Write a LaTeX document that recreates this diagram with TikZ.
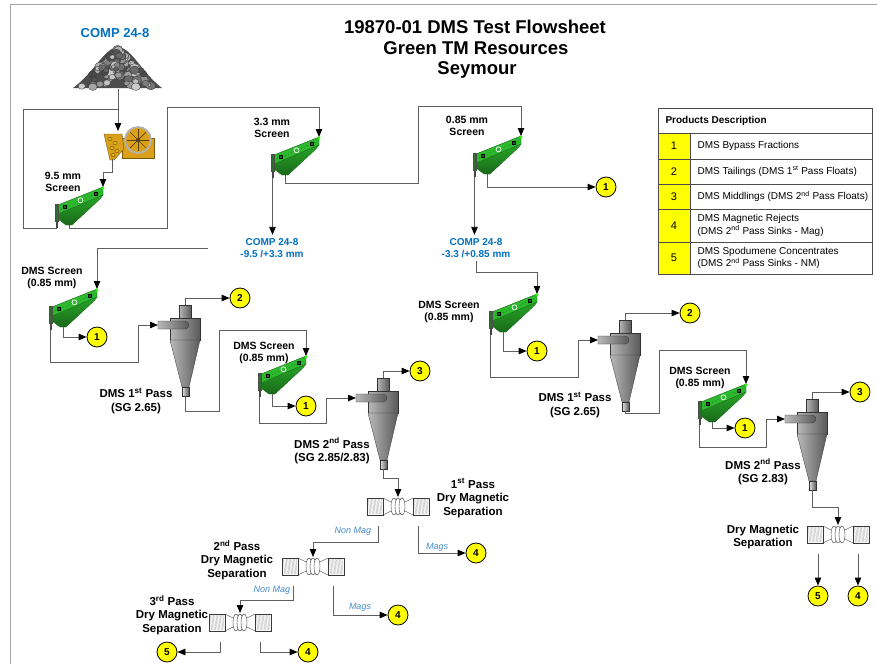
\documentclass[tikz,border=0pt]{standalone}
\usepackage{fontspec}
\setmainfont{Liberation Sans}
\usetikzlibrary{arrows.meta}

\definecolor{compblue}{RGB}{0,112,192}
\definecolor{streamblue}{RGB}{70,140,205}
\definecolor{linegray}{RGB}{95,95,95}
\definecolor{scrgreen}{RGB}{45,185,45}
\definecolor{scrdark}{RGB}{25,105,25}
\definecolor{crushgold}{RGB}{218,160,25}
\definecolor{prodyellow}{RGB}{255,255,0}

\tikzset{
  flow/.style={draw=linegray, line width=0.8pt},
  arr/.style={flow, -{Triangle[length=8pt,width=6.5pt,color=black]}},
  prod/.style={circle, draw=black, fill=prodyellow, line width=0.8pt, minimum size=20pt, inner sep=0pt, font=\bfseries\fontsize{10}{10}\selectfont},
  scrlbl/.style={align=center, font=\bfseries\fontsize{10.5}{12}\selectfont},
  passlbl/.style={align=center, font=\bfseries\fontsize{11.5}{13.5}\selectfont},
  complbl/.style={align=center, text=compblue, font=\bfseries\fontsize{10}{12}\selectfont},
  streamlbl/.style={text=streamblue, font=\itshape\fontsize{9}{10}\selectfont},
  tabtxt/.style={anchor=west, align=left, font=\fontsize{10}{12.5}\selectfont},
  tabnum/.style={font=\fontsize{11}{12}\selectfont},
  cycshade/.style={left color=gray!55, middle color=gray!5, right color=gray!70!black, draw=gray!40!black, line width=0.3pt},
  % criba vibratoria
  screen/.pic={
    \fill[gray!55!black] (-47.5,30) rectangle (-45.5,40);
    \shade[top color=scrgreen!90!black, bottom color=scrdark, draw=scrdark, line width=0.3pt] (-45,26) -- (0,7) -- (-3,11) -- (-31,37) -- (-37,37) -- (-45,31) -- cycle;
    \filldraw[fill=scrgreen, draw=scrdark, line width=0.4pt] (-45,17) -- (0,-1) -- (0,7) -- (-45,26) -- cycle;
    \filldraw[fill=scrdark!80!gray, draw=black!70, line width=0.3pt] (-48,16) rectangle (-45,33);
    \draw[scrdark, line width=0.4pt, dash pattern=on 1pt off 2pt] (-42,21) -- (-3,4);
    \filldraw[fill=scrgreen, draw=white, line width=0.7pt] (-22.5,12.3) circle[radius=2.5];
    \filldraw[fill=scrdark, draw=black, line width=0.3pt] (-40,17.5) rectangle ++(3,3);
    \filldraw[fill=scrdark, draw=black, line width=0.3pt] (-9,4) rectangle ++(3,3);
    \fill[green!80!lime] (0,0) circle[radius=1.6];
    \coordinate (-feed) at (0,-1);
    \coordinate (-over) at (-46.5,40);
    \coordinate (-under) at (-34,37);
  },
  % hidrociclon
  cyclone/.pic={
    \shade[cycshade] (21,-20) rectangle (33,-7);
    \shade[cycshade] (12,-7) rectangle (42,15);
    \shade[cycshade] (12,15) -- (42,15) -- (31,62) -- (24,62) -- cycle;
    \shade[cycshade, left color=gray!20] (24,62) rectangle (31,71);
    \shade[cycshade] (0,-4) -- (27,-4) arc[start angle=-90, end angle=90, radius=4] -- (0,4) -- cycle;
    \coordinate (-in) at (0,0);
    \coordinate (-over) at (27,-20);
    \coordinate (-under) at (27.5,71);
  },
  % separador magnetico
  magsep/.pic={
    \filldraw[fill=gray!5, draw=gray!45!black, line width=0.4pt] (-31,1) rectangle (-15,18);
    \filldraw[fill=gray!5, draw=gray!45!black, line width=0.4pt] (15,1) rectangle (31,18);
    \foreach \k in {0,...,9} {
      \draw[gray!65, line width=0.3pt] (-29.5+\k*1.4,2) -- (-28.5+\k*1.4,17);
      \draw[gray!65, line width=0.3pt] (16.5+\k*1.4,2) -- (17.5+\k*1.4,17);
    }
    \draw[gray!45!black, line width=0.4pt] (-15,1) -- (-7,5) (-15,18) -- (-7,14) (15,1) -- (7,5) (15,18) -- (7,14);
    \foreach \dx in {-4,0,4}
      \filldraw[fill=white, draw=gray!45!black, line width=0.4pt] (\dx,9.5) ellipse (3 and 8.5);
    \coordinate (-top) at (0,0);
    \coordinate (-nonmag) at (-20,29);
    \coordinate (-mags) at (20,29);
  }
}

\begin{document}
\begin{tikzpicture}[x=1pt, y=-1pt]
    \useasboundingbox (0,0) rectangle (877,664);
    \fill[white] (0,0) rectangle (877,664);
    \draw[gray!70, line width=0.8pt] (10,664) -- (10,4) -- (877,4);

    % Titulo
    \node[font=\bfseries\fontsize{18.5}{22}\selectfont] (title1) at (475,27) {19870-01 DMS Test Flowsheet};
    \node[font=\bfseries\fontsize{18.5}{22}\selectfont] (title2) at (476,48) {Green TM Resources};
    \node[font=\bfseries\fontsize{18.5}{22}\selectfont] (title3) at (477,70) {Seymour};

    % Alimentacion: pila de mineral
    \node[text=compblue, font=\bfseries\fontsize{13}{15}\selectfont] (feedlbl) at (115,33) {COMP 24-8};
    \fill[gray!60!black] (73,88) .. controls (95,72) and (104,48) .. (118,47) .. controls (132,48) and (141,72) .. (162,88) -- cycle;
    \pgfmathsetseed{7}
    \foreach \i in {1,...,130} {
      \pgfmathsetmacro\hh{rnd}
      \pgfmathsetmacro\yy{87-38*\hh}
      \pgfmathsetmacro\xx{118+(2*rnd-1)*41*(1-\hh)}
      \pgfmathtruncatemacro\sh{15+60*rnd}
      \pgfmathsetmacro\rr{2+2.3*rnd}
      \filldraw[fill=black!\sh, draw=black!80, line width=0.3pt] (\xx,\yy) ellipse ({1.2*\rr} and \rr);
    }
    \coordinate (pile) at (118,89);

    % Trituradora
    \fill[crushgold, draw=crushgold!55!black, line width=0.4pt] (122,138) rectangle (154,158);
    \fill[crushgold, draw=crushgold!55!black, line width=0.4pt] (104,134) -- (122,134) -- (124,149) -- (114,160) -- (110,160) -- cycle;
    \foreach \p in {(110,139),(115,143),(112,148),(117,151),(113,155)}
      \filldraw[fill=crushgold!80!yellow, draw=crushgold!40!black, line width=0.3pt] \p ellipse (2.2 and 1.6);
    \filldraw[fill=crushgold, draw=gray!60, line width=1.8pt] (138,140) circle[radius=13];
    \foreach \a in {0,45,...,315}
      \draw[crushgold!40!black, line width=0.7pt] (138,140) -- ++(\a:11);
    \fill[crushgold!40!black] (138,140) circle[radius=2];
    \coordinate (crushin) at (118,131);
    \coordinate (crushout) at (112,159);

    % Cribas
    \pic (scrA) at (103,188) {screen};
    \pic (scrB) at (319,138) {screen};
    \pic (scrC) at (521,137) {screen};
    \pic (scrD) at (97,290) {screen};
    \pic (scrE) at (306,357) {screen};
    \pic (scrF) at (537,295) {screen};
    \pic (scrG) at (746,385) {screen};
    \node[scrlbl] (lblA) at (63,182) {9.5 mm\\Screen};
    \node[scrlbl] (lblB) at (272,128) {3.3 mm\\Screen};
    \node[scrlbl] (lblC) at (467,126) {0.85 mm\\Screen};
    \node[scrlbl] (lblD) at (52,278) {DMS Screen\\(0.85 mm)};
    \node[scrlbl] (lblE) at (264,353) {DMS Screen\\(0.85 mm)};
    \node[scrlbl] (lblF) at (449,312) {DMS Screen\\(0.85 mm)};
    \node[scrlbl] (lblG) at (700,378) {DMS Screen\\(0.85 mm)};

    % Productos intermedios
    \node[complbl] (comp1) at (272,248) {COMP 24-8\\-9.5 /+3.3 mm};
    \node[complbl] (comp2) at (476,248) {COMP 24-8\\-3.3 /+0.85 mm};
    \coordinate (c1src) at (208,248);

    % Ciclones DMS
    \pic (cycA) at (158,325) {cyclone};
    \pic (cycB) at (356,398) {cyclone};
    \pic (cycC) at (598,340) {cyclone};
    \pic (cycD) at (785,419) {cyclone};
    \node[passlbl] (lblcA) at (136,401) {DMS 1\textsuperscript{st} Pass\\(SG 2.65)};
    \node[passlbl] (lblcB) at (332,451) {DMS 2\textsuperscript{nd} Pass\\(SG 2.85/2.83)};
    \node[passlbl] (lblcC) at (575,405) {DMS 1\textsuperscript{st} Pass\\(SG 2.65)};
    \node[passlbl] (lblcD) at (763,472) {DMS 2\textsuperscript{nd} Pass\\(SG 2.83)};

    % Separadores magneticos
    \pic (magA) at (398,497) {magsep};
    \pic (magB) at (313,557) {magsep};
    \pic (magC) at (240,613) {magsep};
    \pic (magD) at (838,525) {magsep};
    \node[passlbl] (lblmA) at (473,498) {1\textsuperscript{st} Pass\\Dry Magnetic\\Separation};
    \node[passlbl] (lblmB) at (237,560) {2\textsuperscript{nd} Pass\\Dry Magnetic\\Separation};
    \node[passlbl] (lblmC) at (172,615) {3\textsuperscript{rd} Pass\\Dry Magnetic\\Separation};
    \node[passlbl] (lblmD) at (763,537) {Dry Magnetic\\Separation};

    % Circulos de productos
    \node[prod] (pA1) at (606,187) {1};
    \node[prod] (pB1) at (97,337) {1};
    \node[prod] (pB2) at (240,298) {2};
    \node[prod] (pC1) at (306,406) {1};
    \node[prod] (pC3) at (420,371) {3};
    \node[prod] (pC4) at (476,553) {4};
    \node[prod] (pC4b) at (398,615) {4};
    \node[prod] (pC5) at (167,652) {5};
    \node[prod] (pC4c) at (308,652) {4};
    \node[prod] (pD1) at (537,351) {1};
    \node[prod] (pD2) at (690,313) {2};
    \node[prod] (pE1) at (745,428) {1};
    \node[prod] (pE3) at (860,392) {3};
    \node[prod] (pE5) at (818,596) {5};
    \node[prod] (pE4) at (858,596) {4};

    % Lineas de flujo: trituracion y cribado
    \draw[arr] (pile) -- (crushin);
    \draw[flow] (scrA-over) |- (23,228) |- (118,109);
    \draw[arr] (crushout) -- ++(0,13) -| (scrA-feed);
    \draw[arr] (scrA-under) |- (167,228) -- (167,107) -| (scrB-feed);
    \draw[arr] (scrB-over) -- (scrB-over |- comp1.north);
    \draw[arr] (scrB-under) |- (418,183) -- (418,106) -| (scrC-feed);
    \draw[arr] (scrC-over) -- (scrC-over |- comp2.north);
    \draw[arr] (scrC-under) |- (pA1);

    % Lineas de flujo: circuito -9.5/+3.3 mm
    \draw[arr] (c1src) -| (scrD-feed);
    \draw[arr] (scrD-under) |- (pB1);
    \draw[arr] (scrD-over) |- (138,362) |- (cycA-in);
    \draw[arr] (cycA-over) |- (pB2);
    \draw[arr] (cycA-under) |- (219,411) -- (219,330) -| (scrE-feed);
    \draw[arr] (scrE-under) |- (pC1);
    \draw[arr] (scrE-over) |- (326,423) |- (cycB-in);
    \draw[arr] (cycB-over) |- (pC3);
    \draw[arr] (cycB-under) -- ++(0,9) -| (magA-top);
    \draw[arr] (magA-nonmag) -- ++(0,16) -| (magB-top);
    \draw[arr] (magA-mags) |- (pC4);
    \draw[arr] (magB-nonmag) -- ++(0,14) -| (magC-top);
    \draw[arr] (magB-mags) |- (pC4b);
    \draw[arr] (magC-nonmag) |- (pC5);
    \draw[arr] (magC-mags) |- (pC4c);
    \node[streamlbl] (nm1) at (353,531) {Non Mag};
    \node[streamlbl] (mg1) at (437,547) {Mags};
    \node[streamlbl] (nm2) at (272,590) {Non Mag};
    \node[streamlbl] (mg2) at (360,607) {Mags};

    % Lineas de flujo: circuito -3.3/+0.85 mm
    \draw[arr] (comp2.south) -- ++(0,11) -| (scrF-feed);
    \draw[arr] (scrF-under) |- (pD1);
    \draw[arr] (scrF-over) |- (578,377) |- (cycC-in);
    \draw[arr] (cycC-over) |- (pD2);
    \draw[arr] (cycC-under) |- (659,413) -- (659,350) -| (scrG-feed);
    \draw[arr] (scrG-under) |- (pE1);
    \draw[arr] (scrG-over) |- (766,447) |- (cycD-in);
    \draw[arr] (cycD-over) |- (pE3);
    \draw[arr] (cycD-under) -- ++(0,17) -| (magD-top);
    \draw[arr] (magD-nonmag) -- (pE5);
    \draw[arr] (magD-mags) -- (pE4);

    % Tabla de productos
    \fill[prodyellow] (658,133) rectangle (690,274);
    \draw[gray!60!black, line width=0.6pt] (658,133) -- (872,133);
    \draw[gray!60!black, line width=0.6pt] (658,159) -- (872,159);
    \draw[gray!60!black, line width=0.6pt] (658,184) -- (872,184);
    \draw[gray!60!black, line width=0.6pt] (658,209) -- (872,209);
    \draw[gray!60!black, line width=0.6pt] (658,242) -- (872,242);
    \draw[gray!60!black, line width=0.6pt] (690,133) -- (690,274);
    \draw[gray!60!black, line width=0.6pt] (658,108) rectangle (872,274);
    \node[anchor=west, font=\bfseries\fontsize{10}{12}\selectfont] (thead) at (662,121) {Products Description};
    \node[tabnum] (n1) at (674,146) {1};
    \node[tabnum] (n2) at (674,171.5) {2};
    \node[tabnum] (n3) at (674,196.5) {3};
    \node[tabnum] (n4) at (674,225.5) {4};
    \node[tabnum] (n5) at (674,258) {5};
    \node[tabtxt] (d1) at (694,146) {DMS Bypass Fractions};
    \node[tabtxt] (d2) at (694,171.5) {DMS Tailings (DMS 1\textsuperscript{st} Pass Floats)};
    \node[tabtxt] (d3) at (694,196.5) {DMS Middlings (DMS 2\textsuperscript{nd} Pass Floats)};
    \node[tabtxt] (d4) at (694,225.5) {DMS Magnetic Rejects\\(DMS 2\textsuperscript{nd} Pass Sinks - Mag)};
    \node[tabtxt] (d5) at (694,258) {DMS Spodumene Concentrates\\(DMS 2\textsuperscript{nd} Pass Sinks - NM)};
\end{tikzpicture}
\end{document}
